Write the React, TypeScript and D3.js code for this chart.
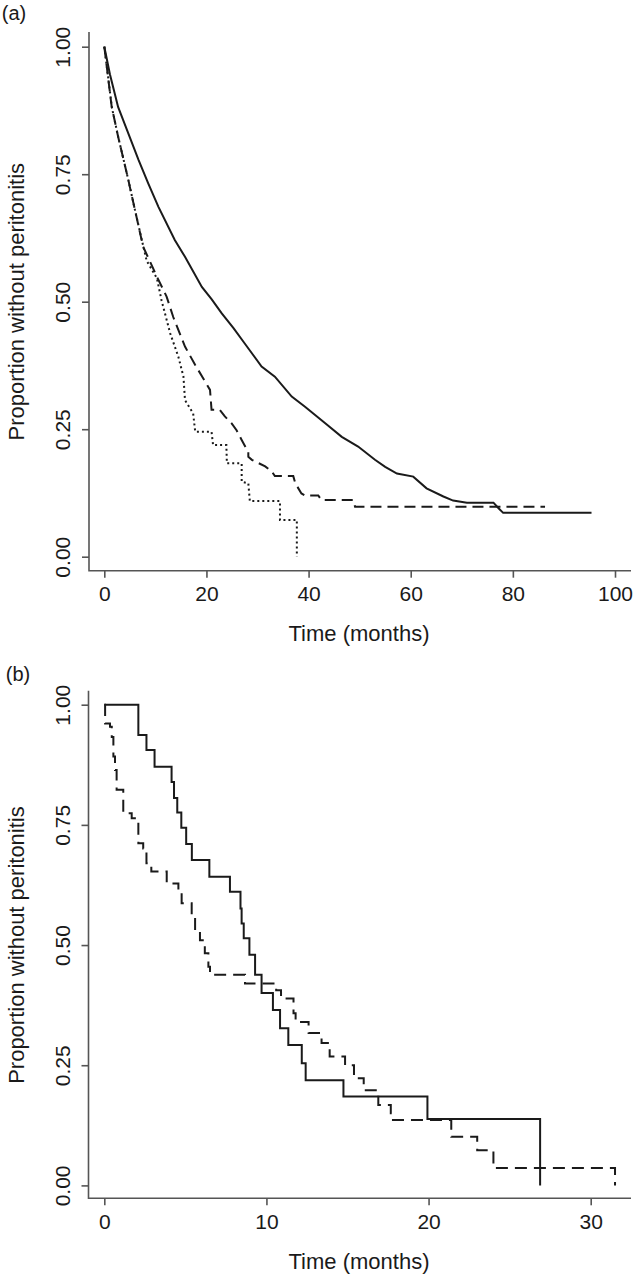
import React, { useEffect, useRef } from 'react'
import * as d3 from 'd3'

// panel (a): proportion without peritonitis, three groups
const timeA1 = [0, 1.1, 2.7, 4.7, 6.7, 8.6, 10.6, 13.8, 15.8, 19.1, 21, 23, 25.3, 27.5, 30.8, 33.4, 36.7, 39.3, 43.2, 46.5, 49.7, 53, 55, 57.3, 60.5, 63.1, 66.4, 68.3, 71, 76.2, 77.2, 78.1, 95.4]
const survA1 = [1, 0.946, 0.882, 0.83, 0.778, 0.732, 0.686, 0.621, 0.588, 0.529, 0.505, 0.477, 0.448, 0.418, 0.373, 0.353, 0.314, 0.294, 0.262, 0.235, 0.216, 0.19, 0.176, 0.163, 0.157, 0.134, 0.118, 0.11, 0.106, 0.106, 0.095, 0.086, 0.086]

const timeA2 = [0, 1.45, 2.7, 4.7, 6, 7.6, 10.3, 12.2, 13.5, 15.8, 17.8, 20.7, 21, 22.6, 23.6, 24.9, 25.9, 26.9, 28.2, 28.2, 28.9, 31.5, 32.8, 33.4, 37, 37.4, 38.6, 39.3, 41.9, 42.5, 48.8, 49.1, 86.3]
const survA2 = [1, 0.882, 0.824, 0.739, 0.68, 0.608, 0.549, 0.51, 0.47, 0.412, 0.376, 0.327, 0.288, 0.288, 0.275, 0.262, 0.248, 0.229, 0.205, 0.196, 0.19, 0.177, 0.167, 0.158, 0.158, 0.144, 0.124, 0.12, 0.12, 0.111, 0.111, 0.098, 0.098]

const timeA3 = [0, 1.5, 2.7, 4.7, 6, 7.6, 8.3, 10.3, 11.2, 12.9, 14.5, 15.5, 15.8, 17.4, 17.8, 21, 21.3, 23.9, 24, 26.9, 26.9, 28.2, 28.5, 34.4, 34.4, 37.7, 37.7]
const survA3 = [1, 0.88, 0.824, 0.739, 0.68, 0.61, 0.58, 0.546, 0.503, 0.438, 0.392, 0.353, 0.307, 0.281, 0.245, 0.245, 0.219, 0.219, 0.183, 0.183, 0.147, 0.144, 0.109, 0.109, 0.072, 0.072, 0]

// panel (b): two groups, Kaplan-Meier steps
const timeB1 = [0, 2.1, 2.6, 3.1, 4.15, 4.3, 4.5, 4.75, 5.05, 5.4, 6.48, 7.75, 8.4, 8.47, 8.6, 8.95, 9.3, 9.7, 10.4, 10.84, 11.35, 12.18, 12.42, 14.75, 19.93, 26.88]
const survB1 = [1, 0.937, 0.906, 0.871, 0.839, 0.806, 0.776, 0.744, 0.71, 0.677, 0.642, 0.611, 0.576, 0.545, 0.514, 0.48, 0.438, 0.4, 0.365, 0.327, 0.292, 0.254, 0.219, 0.185, 0.138, 0]

const timeB2 = [0, 0.05, 0.35, 0.46, 0.56, 0.66, 0.76, 1.17, 1.69, 2.1, 2.4, 2.6, 2.9, 3.85, 4.57, 4.77, 5.39, 5.6, 5.9, 6.2, 6.42, 6.52, 8.68, 10.6, 10.9, 11.67, 11.8, 12.6, 13.4, 13.9, 14.85, 15.4, 16, 16.9, 17.67, 17.73, 21.4, 23, 24, 31.5]
const survB2 = [1, 0.961, 0.954, 0.933, 0.892, 0.864, 0.823, 0.774, 0.764, 0.712, 0.701, 0.67, 0.653, 0.628, 0.615, 0.587, 0.559, 0.531, 0.51, 0.483, 0.455, 0.438, 0.42, 0.406, 0.389, 0.358, 0.34, 0.317, 0.296, 0.268, 0.25, 0.223, 0.198, 0.167, 0.15, 0.136, 0.101, 0.073, 0.036, 0]

const yTicks = [0, 0.25, 0.5, 0.75, 1]
const xTicksA = [0, 20, 40, 60, 80, 100]
const xTicksB = [0, 10, 20, 30]

const FONT = "'Liberation Sans', Arial, Helvetica, sans-serif"
const AXIS = '#555'
const INK = '#1a1a1a'

function App() {
  const ref = useRef(null)

  useEffect(() => {
    const svg = d3.select(ref.current)
    svg.selectAll('*').remove()

    const drawPanel = (p) => {
      const x = d3.scaleLinear().domain([0, p.xMax]).range(p.xRange)
      const y = d3.scaleLinear().domain([0, 1]).range(p.yRange)
      const g = svg.append('g')

      // L-shaped frame
      g.append('path')
        .attr('d', `M${p.left},${p.top}V${p.bottom}H${p.right}`)
        .attr('fill', 'none')
        .attr('stroke', AXIS)
        .attr('stroke-width', 1.6)

      // x axis
      const xa = g
        .append('g')
        .attr('transform', `translate(0, ${p.bottom})`)
        .call(d3.axisBottom(x).tickValues(p.xTicks).tickSize(7).tickFormat(d3.format('d')))
      xa.select('.domain').remove()
      xa.selectAll('line').attr('stroke', AXIS).attr('stroke-width', 1.6)
      xa.selectAll('text')
        .attr('y', 23)
        .attr('dy', '0.35em')
        .attr('fill', INK)
        .attr('font-size', 21)
        .attr('font-family', FONT)

      // y axis
      const ya = g
        .append('g')
        .attr('transform', `translate(${p.left}, 0)`)
        .call(d3.axisLeft(y).tickValues(yTicks).tickSize(7).tickFormat(d3.format('.2f')))
      ya.select('.domain').remove()
      ya.selectAll('line').attr('stroke', AXIS).attr('stroke-width', 1.6)
      ya.selectAll('text')
        .attr('x', 0)
        .attr('dy', null)
        .attr('text-anchor', 'middle')
        .attr('dominant-baseline', 'central')
        .attr('transform', `translate(${62 - p.left}, 0) rotate(-90)`)
        .attr('fill', INK)
        .attr('font-size', 21)
        .attr('font-family', FONT)

      // titles
      g.append('text')
        .attr('x', 359)
        .attr('y', p.bottom + 63)
        .attr('text-anchor', 'middle')
        .attr('dominant-baseline', 'central')
        .attr('font-size', 22)
        .attr('font-family', FONT)
        .attr('fill', INK)
        .text('Time (months)')
      g.append('text')
        .attr('transform', `translate(16, ${y(0.5)}) rotate(-90)`)
        .attr('text-anchor', 'middle')
        .attr('dominant-baseline', 'central')
        .attr('font-size', 22)
        .attr('font-family', FONT)
        .attr('fill', INK)
        .text('Proportion without peritonitis')
      g.append('text')
        .attr('x', p.tag[0])
        .attr('y', p.tag[1])
        .attr('text-anchor', 'middle')
        .attr('dominant-baseline', 'central')
        .attr('font-size', 20)
        .attr('font-family', FONT)
        .attr('fill', INK)
        .text(p.label)

      // curves
      p.series.forEach((s) => {
        const pts = s.t.map((t, i) => [t, s.s[i]])
        const line = d3
          .line()
          .x((d) => x(d[0]))
          .y((d) => y(d[1]))
          .curve(s.step ? d3.curveStepAfter : d3.curveLinear)
        g.append('path')
          .datum(pts)
          .attr('d', line)
          .attr('fill', 'none')
          .attr('stroke', INK)
          .attr('stroke-width', s.width)
          .attr('stroke-dasharray', s.dash)
          .attr('stroke-linejoin', 'miter')
      })
    }

    drawPanel({
      label: '(a)',
      tag: [14, 13],
      xMax: 100,
      xRange: [104.3, 615],
      yRange: [556.7, 46.7],
      left: 89,
      right: 631,
      top: 32,
      bottom: 570.7,
      xTicks: xTicksA,
      series: [
        { t: timeA1, s: survA1, step: false, dash: null, width: 2 },
        { t: timeA2, s: survA2, step: false, dash: '11,6', width: 2 },
        { t: timeA3, s: survA3, step: false, dash: '2,3', width: 2 },
      ],
    })

    drawPanel({
      label: '(b)',
      tag: [18, 674],
      xMax: 30,
      xRange: [104.3, 590.7],
      yRange: [1185.4, 704.7],
      left: 88.5,
      right: 631,
      top: 690.7,
      bottom: 1198.3,
      xTicks: xTicksB,
      series: [
        { t: timeB1, s: survB1, step: true, dash: null, width: 2 },
        { t: timeB2, s: survB2, step: true, dash: '12,7', width: 2 },
      ],
    })
  }, [])

  return (
    <svg
      ref={ref}
      width={634}
      height={1274}
      style={{ position: 'absolute', left: 0, top: 0, background: '#fff' }}
    />
  )
}

export default App
